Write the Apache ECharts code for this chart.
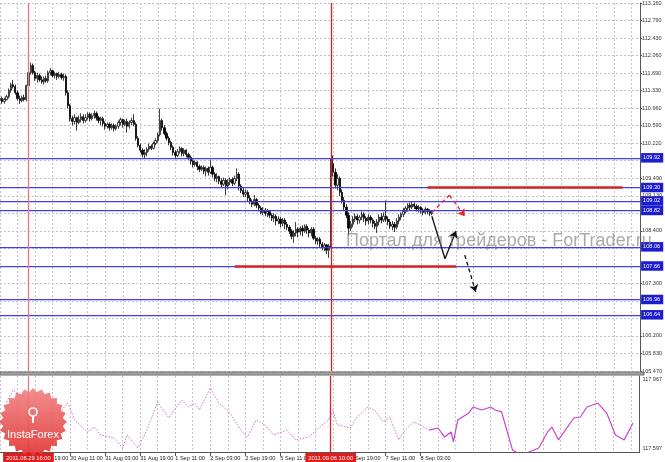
<!DOCTYPE html>
<html><head><meta charset="utf-8">
<script src="https://cdn.jsdelivr.net/npm/echarts@6/dist/echarts.min.js"></script>
<style>html,body{margin:0;padding:0;background:#fff}#c{width:665px;height:462px}</style>
</head><body><div id="c"></div>
<script>
// ---- data ----
const days = ['29 Aug','30 Aug','31 Aug','1 Sep','2 Sep','5 Sep','6 Sep','7 Sep','8 Sep','9 Sep','12 Sep','13 Sep','14 Sep'];
const firstHour = 3;
const barCount = 293;
// hourly candles [open, close, low, high]
const ohlc = [
[111.12,111.16,111.08,111.20],[111.16,111.10,111.05,111.20],[111.10,111.14,111.05,111.18],[111.14,111.20,111.12,111.24],[111.20,111.33,111.16,111.37],
[111.33,111.45,111.28,111.49],[111.45,111.41,111.37,111.55],[111.41,111.28,111.24,111.45],[111.28,111.16,111.12,111.33],[111.16,111.12,111.05,111.22],
[111.12,111.18,111.08,111.22],[111.18,111.14,111.10,111.24],[111.14,111.43,111.10,111.45],[111.43,111.70,111.39,111.74],[111.70,111.85,111.66,111.91],
[111.85,111.70,111.66,111.89],[111.70,111.58,111.53,111.74],[111.58,111.64,111.49,111.70],[111.64,111.55,111.51,111.68],[111.55,111.51,111.47,111.62],
[111.51,111.58,111.45,111.62],[111.58,111.53,111.49,111.64],[111.53,111.70,111.49,111.74],[111.70,111.74,111.64,111.80],[111.74,111.64,111.60,111.76],
[111.64,111.68,111.58,111.72],[111.68,111.62,111.55,111.70],[111.62,111.66,111.58,111.72],[111.66,111.60,111.55,111.70],[111.60,111.62,111.53,111.68],
[111.62,111.28,111.22,111.66],[111.28,111.01,110.95,111.33],[111.01,110.74,110.68,111.05],[110.74,110.68,110.60,110.80],[110.68,110.76,110.62,110.83],
[110.76,110.66,110.49,110.78],[110.66,110.72,110.62,110.80],[110.72,110.78,110.66,110.85],[110.78,110.70,110.64,110.83],[110.70,110.76,110.66,110.83],
[110.76,110.83,110.72,110.87],[110.83,110.74,110.68,110.87],[110.74,110.80,110.70,110.85],[110.80,110.85,110.74,110.91],[110.85,110.76,110.70,110.89],
[110.76,110.70,110.64,110.80],[110.70,110.74,110.60,110.78],[110.74,110.64,110.58,110.78],[110.64,110.58,110.51,110.68],[110.58,110.62,110.53,110.66],
[110.62,110.55,110.49,110.66],[110.55,110.60,110.51,110.64],[110.60,110.53,110.47,110.64],[110.53,110.58,110.49,110.62],[110.58,110.66,110.53,110.70],
[110.66,110.72,110.60,110.76],[110.72,110.62,110.55,110.74],[110.62,110.68,110.58,110.72],[110.68,110.58,110.45,110.74],[110.58,110.66,110.53,110.70],
[110.66,110.70,110.60,110.76],[110.70,110.62,110.58,110.83],[110.62,110.33,110.28,110.66],[110.33,110.18,110.14,110.37],[110.18,110.08,110.03,110.22],
[110.08,109.99,109.93,110.12],[109.99,110.03,109.91,110.10],[110.03,110.10,109.95,110.14],[110.10,110.16,110.05,110.22],[110.16,110.12,110.08,110.20],
[110.12,110.22,110.10,110.26],[110.22,110.28,110.18,110.33],[110.28,110.41,110.24,110.45],[110.41,110.70,110.37,110.95],[110.70,110.55,110.49,110.74],
[110.55,110.43,110.39,110.60],[110.43,110.33,110.28,110.47],[110.33,110.24,110.18,110.37],[110.24,110.14,110.08,110.28],[110.14,110.03,109.97,110.18],
[110.03,109.97,109.91,110.08],[109.97,110.05,109.93,110.10],[110.05,110.12,110.01,110.16],[110.12,110.01,109.95,110.14],[110.01,110.08,109.95,110.12],
[110.08,109.99,109.93,110.10],[109.99,109.93,109.87,110.03],[109.93,109.85,109.78,109.97],[109.85,109.78,109.72,109.89],[109.78,109.83,109.74,109.87],
[109.83,109.74,109.66,109.85],[109.74,109.68,109.62,109.78],[109.68,109.72,109.64,109.76],[109.72,109.64,109.58,109.76],[109.64,109.70,109.53,109.74],
[109.70,109.62,109.55,109.74],[109.62,109.72,109.58,109.87],[109.72,109.58,109.51,109.76],[109.58,109.49,109.43,109.62],[109.49,109.53,109.41,109.60],
[109.53,109.43,109.37,109.55],[109.43,109.37,109.30,109.49],[109.37,109.45,109.33,109.51],[109.45,109.33,109.14,109.49],[109.33,109.41,109.26,109.47],
[109.41,109.47,109.35,109.51],[109.47,109.39,109.33,109.51],[109.39,109.49,109.35,109.55],[109.49,109.58,109.43,109.70],[109.58,109.33,109.24,109.62],
[109.33,109.24,109.18,109.37],[109.24,109.16,109.10,109.30],[109.16,109.20,109.10,109.26],[109.20,109.08,109.01,109.24],[109.08,109.01,108.95,109.14],
[109.01,108.95,108.89,109.05],[108.95,109.05,108.91,109.14],[109.05,108.93,108.87,109.08],[108.93,108.87,108.80,108.97],[108.87,108.78,108.74,108.91],
[108.78,108.83,108.72,108.89],[108.83,108.76,108.70,108.87],[108.76,108.80,108.68,108.85],[108.80,108.72,108.66,108.83],[108.72,108.66,108.60,108.76],
[108.66,108.70,108.58,108.76],[108.70,108.60,108.51,108.74],[108.60,108.64,108.53,108.70],[108.64,108.55,108.47,108.68],[108.55,108.62,108.49,108.66],
[108.62,108.53,108.43,108.66],[108.53,108.47,108.41,108.58],[108.47,108.39,108.33,108.51],[108.39,108.28,108.22,108.43],[108.28,108.35,108.14,108.41],
[108.35,108.43,108.28,108.58],[108.43,108.37,108.26,108.47],[108.37,108.45,108.30,108.49],[108.45,108.39,108.28,108.51],[108.39,108.49,108.35,108.53],
[108.49,108.41,108.33,108.53],[108.41,108.35,108.26,108.45],[108.35,108.43,108.28,108.47],[108.43,108.24,108.20,108.47],[108.24,108.18,108.12,108.28],
[108.18,108.22,108.10,108.26],[108.22,108.12,108.05,108.26],[108.12,108.05,107.99,108.16],[108.05,108.10,107.97,108.14],[108.10,107.99,107.91,108.12],
[107.99,108.08,107.83,108.12],[108.08,109.80,108.03,109.91],[109.80,109.62,109.53,109.97],[109.62,109.35,109.28,109.70],[109.35,109.49,109.24,109.58],
[109.49,109.20,109.12,109.53],[109.20,109.03,108.97,109.26],[109.03,108.89,108.83,109.10],[108.89,108.72,108.66,108.95],[108.72,108.45,108.30,108.78],
[108.45,108.53,108.39,108.60],[108.53,108.64,108.47,108.70],[108.64,108.70,108.58,108.76],[108.70,108.62,108.53,108.74],[108.62,108.68,108.55,108.72],
[108.68,108.74,108.62,108.80],[108.74,108.66,108.58,108.78],[108.66,108.60,108.51,108.70],[108.60,108.68,108.53,108.74],[108.68,108.62,108.55,108.72],
[108.62,108.55,108.47,108.66],[108.55,108.49,108.43,108.60],[108.49,108.58,108.35,108.64],[108.58,108.68,108.51,108.74],[108.68,108.62,108.55,108.76],
[108.62,108.70,108.58,108.78],[108.70,108.64,108.58,109.03],[108.64,108.58,108.51,108.70],[108.58,108.49,108.43,108.64],[108.49,108.53,108.41,108.60],
[108.53,108.47,108.37,108.58],[108.47,108.60,108.43,108.66],[108.60,108.68,108.53,108.74],[108.68,108.74,108.62,108.78],[108.74,108.80,108.68,108.87],
[108.80,108.87,108.76,108.91],[108.87,108.93,108.80,108.97],[108.93,108.89,108.83,108.99],[108.89,108.95,108.85,109.01],[108.95,108.91,108.85,108.99],
[108.91,108.85,108.80,108.95],[108.85,108.89,108.78,108.93],[108.89,108.83,108.76,108.91],[108.83,108.78,108.72,108.87],[108.78,108.85,108.74,108.89],
[108.85,108.80,108.74,108.87],[108.80,108.76,108.70,108.85],[108.76,108.78,108.72,108.83]
];
const priceTickLabels = ['105.470','105.830','106.200','','','107.300','','','108.400','','109.130','109.490','','110.220','110.590','110.960','111.330','111.690','112.060','112.430','112.790','113.160'];
const levels = [109.92, 109.30, 109.02, 108.82, 108.06, 107.66, 106.96, 106.64];
const markerTimes = ['29 Aug 16:00', '6 Sep 10:00'];
const markerLabels = ['2011.08.29 16:00', '2011.09.06 10:00'];
const redLines = [['8 Sep 06:00','13 Sep 23:00',109.30], ['2 Sep 14:00','8 Sep 19:00',107.66]];
const redArrow = [['8 Sep 08:00',108.78], ['8 Sep 16:00',109.14], ['8 Sep 23:00',108.70]];
const blackArrow = [['8 Sep 08:00',108.70], ['8 Sep 14:00',107.81], ['8 Sep 19:00',108.39]];
const blackDashArrow = [['8 Sep 23:00',107.89], ['9 Sep 04:00',107.12]];
const indLabels = [117.967, 117.597];
const indDotted = [[3,117.845],[6,117.909],[10,117.872],[14,117.829],[18,117.793],[23,117.777],[27,117.787],[31,117.840],[34,117.750],[40,117.687],[43,117.713],[46,117.671],[52,117.655],[56,117.602],[58,117.671],[63,117.602],[67,117.697],[72,117.845],[77,117.761],[83,117.856],[86,117.819],[89,117.840],[91,117.803],[96,117.919],[100,117.840],[105,117.787],[110,117.697],[113,117.660],[117,117.750],[121,117.724],[125,117.671],[131,117.697],[135,117.645],[141,117.660],[146,117.713],[150,117.750],[152,117.803],[154,117.724],[160,117.708],[163,117.766],[168,117.819],[171,117.803],[175,117.740],[178,117.766],[182,117.645],[185,117.697],[189,117.740],[192,117.724],[196,117.697]];
const indSolid = [[196,117.697],[200,117.708],[203,117.660],[206,117.687],[207,117.634],[209,117.750],[214,117.787],[216,117.819],[220,117.803],[224,117.819],[226,117.803],[229,117.793],[234,117.592],[238,117.565],[246,117.602],[250,117.687],[252,117.713],[255,117.645],[262,117.761],[265,117.766],[268,117.819],[273,117.840],[277,117.787],[281,117.671],[285,117.645],[289,117.734]];
const watermark = 'Портал для трейдеров - ForTrader.ru';
const logoText = 'InstaForex';

// ---- build ----
const cats = [];
days.forEach((d, di) => {
  for (let h = (di === 0 ? firstHour : 0); h < 24; h++) {
    if (cats.length < barCount) cats.push(d + ' ' + String(h).padStart(2, '0') + ':00');
  }
});
const yMin = 105.4656, yStep = 0.3662, yMax = +(yMin + 21 * yStep).toFixed(4);
const FF = 'Liberation Sans';
const grid = (i) => i % 8 === 0;
const lbl = (i) => i >= 16 && i <= 192 && i % 16 === 0;
const gridLine = {show: true, lineStyle: {color: '#c4c4c4', type: [2, 2], width: 1}};
const markerColors = ['#e67a7a', '#e01c1c'];

const logoPts = [];
for (let k = 0; k < 48; k++) {
  const a = k * Math.PI / 24, r = k % 2 ? 30 : 34;
  logoPts.push([33 + r * Math.sin(a), 422 - r * Math.cos(a)]);
}

const chart = echarts.init(document.getElementById('c'), null, {renderer: 'canvas'});
const seg = (pts) => { const out = []; for (let k = 0; k < pts.length - 1; k++) out.push([{coord: pts[k], symbol: 'none'}, {coord: pts[k + 1], symbol: k === pts.length - 2 ? 'arrow' : 'none'}]); return out; };

const series = [
  {type: 'candlestick', xAxisIndex: 0, yAxisIndex: 0, data: ohlc, barWidth: 1.8, z: 3,
   itemStyle: {color: '#ffffff', color0: '#000000', borderColor: '#111111', borderColor0: '#000000', borderWidth: 0.8}},
  {type: 'line', xAxisIndex: 0, yAxisIndex: 0, data: [], z: 4,
   markLine: {silent: true, animation: false, symbol: ['none', 'none'],
     lineStyle: {color: '#4040ea', width: 1.25, type: 'solid'},
     label: {position: 'end', distance: 1, color: '#fff', backgroundColor: '#1c1cd2', fontSize: 5.6, fontFamily: FF, padding: [2, 3, 1.5, 2], formatter: (p) => p.value.toFixed(2)},
     data: levels.map((v) => ({yAxis: v}))}},
  {type: 'line', xAxisIndex: 0, yAxisIndex: 0, data: [], z: 5,
   markLine: {silent: true, animation: false, symbol: ['none', 'none'], label: {show: false},
     lineStyle: {color: '#d42424', width: 2.5, type: 'solid'},
     data: redLines.map(([a, b, v]) => [{coord: [a, v]}, {coord: [b, v]}])}},
  {type: 'line', xAxisIndex: 0, yAxisIndex: 0, data: [], z: 6,
   markLine: {silent: true, animation: false, symbolSize: 7, label: {show: false},
     lineStyle: {color: '#e02828', width: 1.3, type: [4, 3]}, data: seg(redArrow)}},
  {type: 'line', xAxisIndex: 0, yAxisIndex: 0, data: [], z: 6,
   markLine: {silent: true, animation: false, symbolSize: 7, label: {show: false},
     lineStyle: {color: '#111', width: 1.3, type: 'solid'}, data: seg(blackArrow)}},
  {type: 'line', xAxisIndex: 0, yAxisIndex: 0, data: [], z: 6,
   markLine: {silent: true, animation: false, symbolSize: 7, label: {show: false},
     lineStyle: {color: '#111', width: 1.3, type: [4, 3]}, data: seg(blackDashArrow)}},
  {type: 'line', xAxisIndex: 1, yAxisIndex: 1, data: indDotted, showSymbol: false, z: 2,
   lineStyle: {color: '#d070d0', width: 1, type: [1.5, 1.5]}},
  {type: 'line', xAxisIndex: 1, yAxisIndex: 1, data: indSolid, showSymbol: false, z: 2,
   lineStyle: {color: '#cc44cc', width: 1.2}}
];
markerTimes.forEach((t, k) => {
  series.push({type: 'line', xAxisIndex: 0, yAxisIndex: 0, data: [], z: 6,
    markLine: {silent: true, animation: false, symbol: ['none', 'none'], label: {show: false},
      lineStyle: {color: markerColors[k], width: 1.3, type: 'solid', opacity: 1}, data: [{xAxis: t}]}});
  series.push({type: 'line', xAxisIndex: 1, yAxisIndex: 1, data: [], z: 10,
    markLine: {silent: true, animation: false, symbol: ['none', 'none'],
      lineStyle: {color: markerColors[k], width: 1.3, type: 'solid', opacity: 1},
      label: {show: true, position: 'start', distance: 1, color: '#fff', backgroundColor: '#e31b1b', fontSize: 5.8, fontFamily: FF, padding: [2, 3, 2, 3], formatter: markerLabels[k]},
      data: [{xAxis: t}]}});
});

chart.setOption({
  animation: false,
  backgroundColor: '#ffffff',
  grid: [{left: 0, top: 2, width: 644, height: 369}, {left: 0, top: 376, width: 644, height: 76}],
  xAxis: [
    {gridIndex: 0, type: 'category', data: cats, boundaryGap: false, axisLine: {show: false}, axisTick: {show: false}, axisLabel: {show: false}, splitLine: Object.assign({interval: grid}, gridLine)},
    {gridIndex: 1, type: 'category', data: cats, boundaryGap: false,
     axisLine: {show: true, lineStyle: {color: '#555', width: 1}},
     axisTick: {show: true, interval: lbl, length: 4, lineStyle: {color: '#555'}},
     axisLabel: {interval: lbl, align: 'left', fontSize: 5.6, color: '#222', margin: 3, fontFamily: FF},
     splitLine: Object.assign({interval: grid}, gridLine)}
  ],
  yAxis: [
    {gridIndex: 0, type: 'value', position: 'right', min: yMin, max: yMax, interval: yStep,
     axisLine: {show: true, lineStyle: {color: '#555'}}, axisTick: {show: true, length: 2, lineStyle: {color: '#555'}},
     axisLabel: {fontSize: 5.5, color: '#333', margin: 2, fontFamily: FF, formatter: (v) => priceTickLabels[Math.round((v - yMin) / yStep)] || ''},
     splitLine: gridLine},
    {gridIndex: 1, type: 'value', position: 'right', min: 117.581, max: 117.983,
     axisLine: {show: true, lineStyle: {color: '#555'}}, axisTick: {show: false},
     axisLabel: {customValues: indLabels, fontSize: 5.5, color: '#333', margin: 3, fontFamily: FF, formatter: (v) => v.toFixed(3)},
     splitLine: {show: false}}
  ],
  series: series,
  graphic: [
    {type: 'rect', z: 1, silent: true, shape: {x: 0, y: 372, width: 644, height: 3}, style: {fill: '#a8a8a8', stroke: '#6a6a6a', lineWidth: 1}},
    {type: 'polygon', z: 7, silent: true, shape: {points: logoPts},
     style: {fill: new echarts.graphic.LinearGradient(0, 0, 0, 1, [{offset: 0, color: 'rgba(240,130,130,0.9)'}, {offset: 1, color: 'rgba(226,52,52,0.92)'}])}},
    {type: 'circle', z: 8, silent: true, shape: {cx: 33, cy: 412, r: 4}, style: {fill: 'none', stroke: '#fff', lineWidth: 1.6}},
    {type: 'rect', z: 8, silent: true, shape: {x: 32, y: 416, width: 2, height: 7}, style: {fill: '#fff'}},
    {type: 'text', z: 8, silent: true, style: {text: logoText, x: 33, y: 435, align: 'center', verticalAlign: 'middle', fill: '#fff', font: '11px "Liberation Sans"'}},
    {type: 'text', z: 20, silent: true, style: {text: watermark, x: 346, y: 241, verticalAlign: 'middle', fill: 'rgba(125,115,115,0.62)', font: '18px "Liberation Sans"'}}
  ]
});
</script></body></html>
